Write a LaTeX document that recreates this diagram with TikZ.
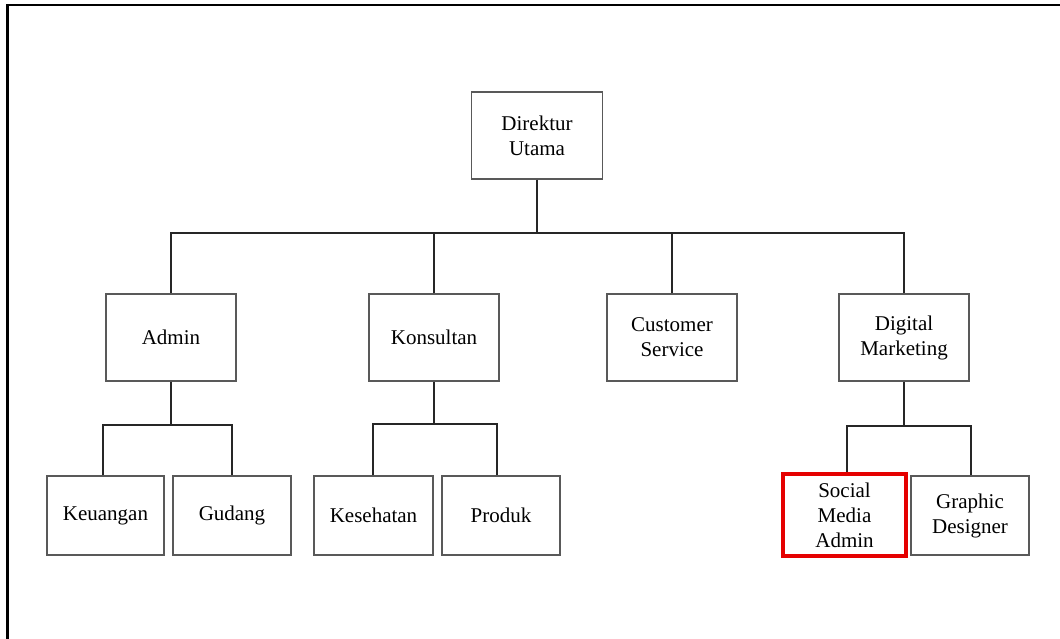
\documentclass[tikz,border=0pt]{standalone}
\usepackage{fontspec}
\setmainfont{Liberation Serif}
\begin{document}
\begin{tikzpicture}[x=1pt,y=-1pt,
  box/.style={draw=black!65, line width=1.2pt, fill=white, align=center, inner sep=0pt,
    font=\fontsize{21}{25}\selectfont},
  big/.style={box, minimum width=130pt, minimum height=87pt},
  small/.style={box, minimum width=118pt, minimum height=79pt},
  hl/.style={small, draw=red!90!black, line width=3.5pt, minimum width=123pt, minimum height=82pt},
  conn/.style={draw=black!85, line width=1.3pt},
  frame/.style={draw=black, line width=2.5pt}]
\useasboundingbox (0,0) rectangle (1060,639);
% partial frame
\coordinate (ftl) at (7.5,5);
\coordinate (ftr) at (1060,5);
\coordinate (fbl) at (7.5,639);
\draw[frame] (fbl) -- (ftl) -- (ftr);
% nodes
\node[big, minimum width=131pt] (dir) at (537,135.5) {Direktur\\Utama};
\node[big] (admin) at (171,337.5) {Admin};
\node[big] (kons) at (434,337.5) {Konsultan};
\node[big] (cs) at (672,337.5) {Customer\\Service};
\node[big] (dm) at (904,337.5) {Digital\\Marketing};
\node[small, minimum width=117pt] (keu) at (105.5,515.5) {Keuangan};
\node[small] (gud) at (232,515.5) {Gudang};
\node[small, minimum width=119pt] (kes) at (373.5,515.5) {Kesehatan};
\node[small] (prod) at (501,515.5) {Produk};
\node[hl] (sma) at (844.5,515) {Social\\Media\\Admin};
\node[small] (gd) at (970,515.5) {Graphic\\Designer};
% connection points on children
\coordinate (pkeu) at ([xshift=-2.5pt]keu.north);
\coordinate (pkes) at ([xshift=-0.5pt]kes.north);
\coordinate (pprod) at ([xshift=-4pt]prod.north);
\coordinate (psma) at ([xshift=2.5pt]sma.north);
\coordinate (pgd) at ([xshift=1pt]gd.north);
% bus coordinates
\coordinate (b0) at (537,233);
\coordinate (b1) at (171,425);
\coordinate (b2) at (434,424);
\coordinate (b3) at (904,426);
% top level
\draw[conn] (dir.south) -- (b0);
\draw[conn] (admin.north) -- (admin.north |- b0) -- (dm.north |- b0) -- (dm.north);
\draw[conn] (kons.north) -- (kons.north |- b0);
\draw[conn] (cs.north) -- (cs.north |- b0);
% admin
\draw[conn] (admin.south) -- (b1);
\draw[conn] (pkeu) -- (pkeu |- b1) -- (gud.north |- b1) -- (gud.north);
% konsultan
\draw[conn] (kons.south) -- (b2);
\draw[conn] (pkes) -- (pkes |- b2) -- (pprod |- b2) -- (pprod);
% digital marketing
\draw[conn] (dm.south) -- (b3);
\draw[conn] (psma) -- (psma |- b3) -- (pgd |- b3) -- (pgd);
\end{tikzpicture}
\end{document}
